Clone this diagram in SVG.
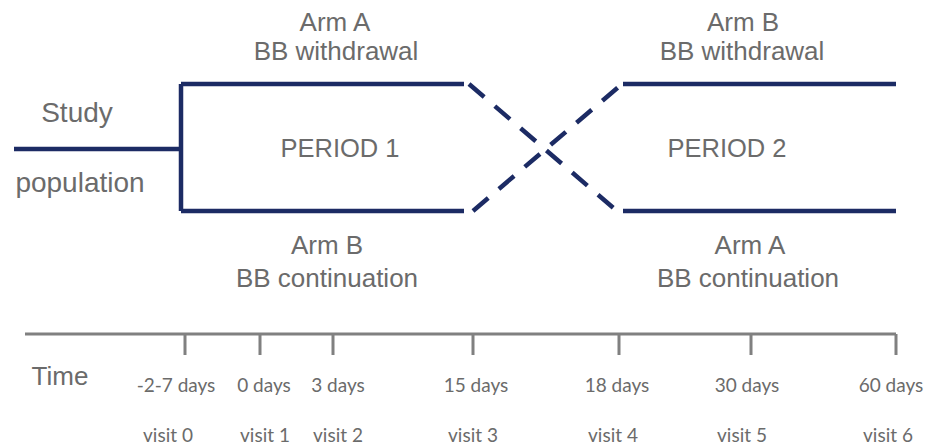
<svg xmlns="http://www.w3.org/2000/svg" width="938" height="447" viewBox="0 0 938 447">
<style>
.lbl{font-family:"Liberation Sans",Arial,sans-serif;fill:#6b6b6b;text-anchor:middle}
.arm{font-size:26px}
.sp{font-size:28px}
.per{font-size:25.5px}
.tm{font-family:Lato,"Liberation Sans",sans-serif;font-size:19px;fill:#6b6b6b;text-anchor:middle}
.nv{stroke:#1c2b64;stroke-width:4.5;fill:none}
.dash{stroke:#1c2b64;stroke-width:4.5;fill:none;stroke-dasharray:20 14}
.ax{stroke:#808080;stroke-width:3;fill:none}
</style>
<rect width="938" height="447" fill="#ffffff"/>
<g id="connectors">
<path class="nv" d="M14 149H181M181 84V211M181 84H464M181 211H464M623 84H896M623 211H896"/>
<path class="dash" d="M469 84L617 211M473 211L622 84"/>
</g>
<g id="study-population">
<text class="lbl sp" x="77" y="122">Study</text>
<text class="lbl sp" x="80" y="192">population</text>
</g>
<g id="period1">
<text class="lbl per" x="340" y="157">PERIOD 1</text>
</g>
<g id="period2">
<text class="lbl per" x="727" y="157">PERIOD 2</text>
</g>
<g id="arm-a-withdrawal">
<text class="lbl arm" x="335" y="31">Arm A</text>
<text class="lbl arm" x="336" y="60">BB withdrawal</text>
</g>
<g id="arm-b-continuation">
<text class="lbl arm" x="327" y="254">Arm B</text>
<text class="lbl arm" x="327" y="287">BB continuation</text>
</g>
<g id="arm-b-withdrawal">
<text class="lbl arm" x="743" y="31">Arm B</text>
<text class="lbl arm" x="742" y="60">BB withdrawal</text>
</g>
<g id="arm-a-continuation">
<text class="lbl arm" x="750" y="254">Arm A</text>
<text class="lbl arm" x="748" y="287">BB continuation</text>
</g>
<g id="timeline">
<path class="ax" d="M25 334H896M185 334V355M260 334V355M333 334V355M473 334V355M619 334V355M751 334V355M896 334V355"/>
<text class="lbl" style="font-size:26px" x="60" y="385">Time</text>
<text class="tm" x="176" y="392">-2-7 days</text>
<text class="tm" x="264" y="392">0 days</text>
<text class="tm" x="338" y="392">3 days</text>
<text class="tm" x="476" y="392">15 days</text>
<text class="tm" x="617" y="392">18 days</text>
<text class="tm" x="747" y="392">30 days</text>
<text class="tm" x="891" y="392">60 days</text>
<text class="tm" x="168" y="442">visit 0</text>
<text class="tm" x="265" y="442">visit 1</text>
<text class="tm" x="338" y="442">visit 2</text>
<text class="tm" x="473" y="442">visit 3</text>
<text class="tm" x="613" y="442">visit 4</text>
<text class="tm" x="742" y="442">visit 5</text>
<text class="tm" x="888" y="442">visit 6</text>
</g>
</svg>
